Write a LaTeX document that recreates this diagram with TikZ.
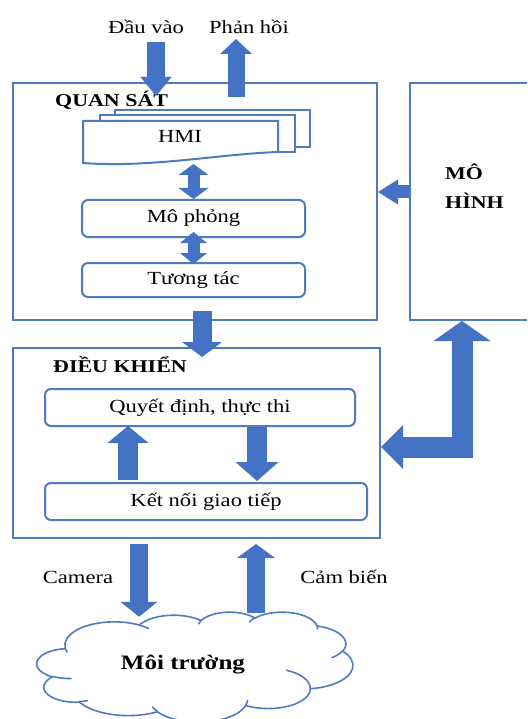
\documentclass[tikz,border=0pt]{standalone}
\usepackage{fontspec}
\setmainfont{Liberation Serif}[FakeStretch=1.22]
\usetikzlibrary{arrows.meta,calc}
\definecolor{ablue}{HTML}{4472C4}
\definecolor{bblue}{HTML}{4F7BC0}
% parametric angles for an ellipse arc given by visual start/sweep angles
\newcommand\cldcalc[4]{%
  \pgfmathsetmacro\cldS{atan2(#1*sin(#3), #2*cos(#3))}%
  \pgfmathsetmacro\cldE{atan2(#1*sin(#3+#4), #2*cos(#3+#4))}%
  \pgfmathsetmacro\cldD{\cldE-\cldS}%
  \pgfmathsetmacro\cldD{\cldD+360*and(#4>0,\cldD<0)-360*and(#4<0,\cldD>0)}%
}
\newcommand\cldseg[6]{%
  \cldcalc{#3}{#4}{#5}{#6}%
  \draw[cloudline] (#1) arc[start angle=\cldS, delta angle=\cldD, x radius=#3, y radius=#4] coordinate (#2);%
}
\newcommand\cldin[6]{%
  \cldcalc{#3}{#4}{#5}{#6}%
  \draw[cloudline] (#1,#2) arc[start angle=\cldS, delta angle=\cldD, x radius=#3, y radius=#4];%
}
\begin{document}
\begin{tikzpicture}[x=1pt,y=-1pt,
  frame/.style={draw=bblue, line width=2pt, rectangle, inner sep=0pt},
  rbox/.style={draw=bblue, line width=2pt, rounded corners=6pt, inner sep=0pt, font=\fontsize{18.5}{20}\selectfont},
  lbl/.style={font=\fontsize{18.5}{20}\selectfont, inner sep=0pt},
  ttl/.style={font=\bfseries\fontsize{18}{29}\selectfont, inner sep=0pt, anchor=west},
  barrow/.style args={#1/#2/#3}{draw=ablue, line width=#1, -{Triangle[width=#2,length=#3,line width=0pt,fill=ablue]}},
  dbarrow/.style args={#1/#2/#3}{draw=ablue, line width=#1, {Triangle[width=#2,length=#3,line width=0pt,fill=ablue]}-{Triangle[width=#2,length=#3,line width=0pt,fill=ablue]}},
  docshape/.style={draw=bblue, line width=2pt, fill=white},
  cloudline/.style={draw=bblue, line width=1.6pt, line cap=round},
]
\useasboundingbox (0,0) rectangle (527,719);
\clip (0,0) rectangle (527,719);
\fill[white] (0,0) rectangle (527,719);

% frames
\node[frame, minimum width=364pt, minimum height=237pt] (qs) at (195,201.5) {};
\node[frame, minimum width=135pt, minimum height=237pt] (mh) at (477.5,201.5) {};
\node[frame, minimum width=367pt, minimum height=190pt] (dk) at (196.5,443) {};

\node[ttl] (qst) at (55,100) {QUAN SÁT};
\node[ttl] (dkt) at (53,365) {ĐIỀU KHIỂN};
\node[ttl, align=left] (mht) at (445,186.5) {MÔ\\HÌNH};

% HMI multidocument
\draw[docshape] (115,110) rectangle (310,147);
\draw[docshape] (100,115) rectangle (295,152);
\draw[docshape] (83,121) -- (278,121) -- (278,152)
  .. controls (220,154) and (150,168) .. (83,163) -- cycle;
\node[lbl] (hmi) at (180,136) {HMI};

% inner boxes
\node[rbox, minimum width=223pt, minimum height=37pt] (mp) at (193.5,218.5) {Mô phỏng};
\node[rbox, minimum width=223pt, minimum height=34pt] (tt) at (193.5,280) {Tương tác};
\node[rbox, minimum width=310pt, minimum height=37pt] (qd) at (200,407.5) {Quyết định, thực thi};
\node[rbox, minimum width=322pt, minimum height=37pt] (kn) at (206,501.5) {Kết nối giao tiếp};

% labels
\node[lbl] (dv) at (146,27) {Đầu vào};
\node[lbl] (ph) at (249,27) {Phản hồi};
\node[lbl] (cam) at (78,577) {Camera};
\node[lbl] (cb) at (344,577) {Cảm biến};

% cloud (environment)
\node[minimum width=316pt, minimum height=110pt, inner sep=0pt] (env) at (195,667) {};
\begin{scope}[shift={(env.north west)}, xscale=0.7315, yscale=0.2546]
  \coordinate (c0) at (39.00,143.70);
  \cldseg{c0}{c1}{67.53}{91.90}{-190.487}{123.781}
  \cldseg{c1}{c2}{53.33}{72.67}{-144.102}{89.945}
  \cldseg{c2}{c3}{43.65}{59.45}{-145.808}{99.723}
  \cldseg{c3}{c4}{48.57}{65.95}{-130.986}{117.242}
  \cldseg{c4}{c5}{53.33}{72.73}{-78.709}{109.027}
  \cldseg{c5}{c6}{67.75}{92.20}{-46.267}{130.269}
  \cldseg{c6}{c7}{57.85}{78.67}{0.625}{114.033}
  \cldseg{c7}{c8}{67.52}{92.15}{22.452}{115.173}
  \cldseg{c8}{c9}{77.20}{105.43}{66.243}{75.711}
  \cldseg{c9}{c10}{43.60}{59.18}{-274.942}{146.736}
  \cldseg{c10}{c11}{43.45}{59.45}{-246.829}{152.519}
  \cldin{46.93}{261.77}{43.45}{59.45}{86.742}{26.430}
  \cldin{69.28}{348.99}{43.60}{59.18}{73.610}{11.447}
  \cldin{164.78}{390.90}{67.52}{92.15}{137.624}{14.081}
  \cldin{288.27}{347.51}{67.52}{92.15}{6.453}{15.998}
  \cldin{341.29}{229.54}{57.85}{78.67}{-70.292}{70.917}
  \cldin{417.98}{153.54}{53.33}{72.73}{30.318}{27.752}
  \cldin{383.24}{54.26}{48.57}{65.95}{-13.744}{14.859}
  \cldin{290.78}{39.52}{48.57}{65.95}{-149.181}{18.195}
  \cldin{221.41}{47.20}{43.65}{59.45}{-163.494}{17.686}
  \cldin{140.00}{51.92}{67.53}{91.90}{-66.707}{12.319}
  \cldin{41.27}{157.89}{67.53}{91.90}{157.654}{11.858}
\end{scope}
\node[font=\bfseries\fontsize{20.5}{22}\selectfont, inner sep=0pt] (mt) at (183,665) {Môi trường};

% arrows
\coordinate (hmib) at ($(mp.north)+(0,-35)$);
\draw[barrow={18pt/31pt/19pt}] ($(qs.north)+(-39,-40)$) -- ($(qs.north)+(-39,14)$);
\draw[barrow={17pt/32pt/15pt}] ($(qs.north)+(41,15)$) -- ($(qs.north)+(41,-43)$);
\draw[dbarrow={12pt/30pt/11pt}] (hmib) -- (mp.north);
\draw[dbarrow={12pt/27pt/11pt}] ($(mp.south)+(0,-6)$) -- ($(tt.north)+(0,2)$);
\draw[barrow={13pt/25pt/20pt}] ($(mh.west)+(0,-9.5)$) -- ($(qs.east)+(0,-9.5)$);
\draw[barrow={19pt/40pt/15pt}] ($(qs.south)+(7,-10)$) -- ($(dk.north)+(5.5,10)$);
\draw[barrow={20pt/41pt/17pt}] ($(kn.north)+(-78,-2)$) -- ($(qd.south)+(-72,-1)$);
\draw[barrow={20pt/43pt/19pt}] ($(qd.south)+(57,0)$) -- ($(kn.north)+(51,-1)$);
\draw[draw=ablue, line width=21pt,
  {Triangle[width=44pt,length=22pt,line width=0pt,fill=ablue]}-{Triangle[width=57pt,length=20pt,line width=0pt,fill=ablue]}]
  ($(dk.east)+(0,4)$) -| ($(mh.south)+(-15.5,0)$);
\draw[barrow={18pt/37pt/15pt}] ($(dk.south)+(-57.5,5)$) -- ($(env.north)+(-56,5)$);
\draw[barrow={18pt/38pt/14pt}] ($(env.north)+(61,1)$) -- ($(dk.south)+(59.5,5)$);
\end{tikzpicture}
\end{document}
